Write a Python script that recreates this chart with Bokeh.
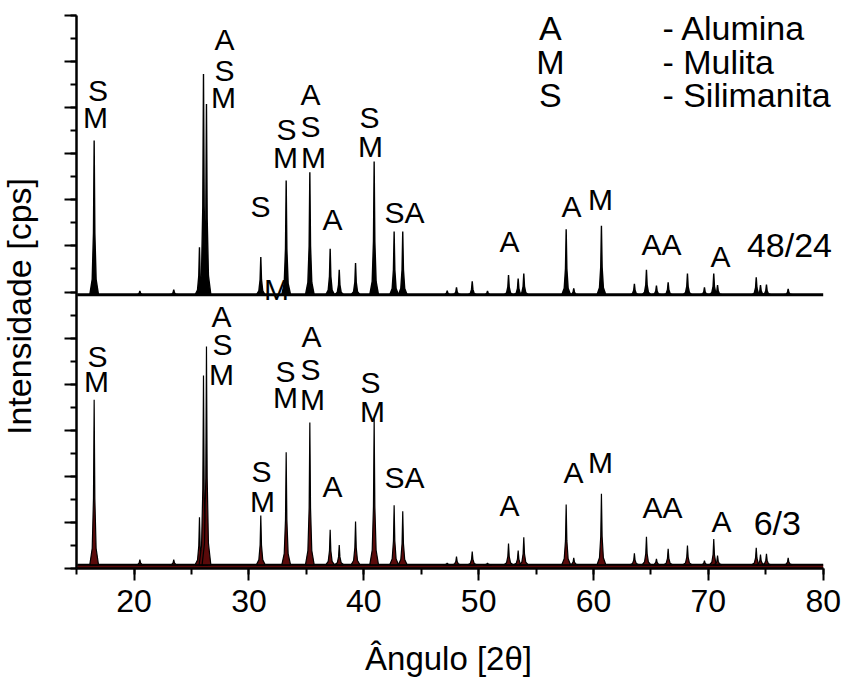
import math
from bokeh.plotting import figure
from bokeh.models import SingleIntervalTicker, CustomJSTickFormatter
from bokeh.core.properties import value
from bokeh.embed import file_html
from bokeh.resources import INLINE

# ---------------- data ----------------
peak_pos = [16.52, 20.50, 23.45, 25.69, 26.04, 26.30, 31.03, 33.24, 35.30, 37.07,
            37.86, 39.28, 40.90, 42.64, 43.39, 47.26, 48.07, 49.44, 50.77, 52.60,
            53.44, 53.93, 57.62, 58.28, 60.69, 63.56, 64.61, 65.48, 66.50, 68.18,
            69.66, 70.47, 70.80, 74.17, 74.54, 75.06, 76.95]
# sample 48/24 (upper pattern), intensities in axis units
top_peak = [9.29, 6.02, 6.05, 6.97, 10.73, 10.08, 6.76, 8.42, 8.60, 6.94,
            6.48, 6.63, 8.83, 7.31, 7.31, 6.03, 6.10, 6.23, 6.02, 6.37,
            6.29, 6.40, 7.36, 6.08, 7.44, 6.18, 6.48, 6.14, 6.21, 6.40,
            6.10, 6.40, 6.15, 6.32, 6.15, 6.16, 6.07]
# sample 6/3 (lower pattern)
bottom_peak = [3.66, 0.19, 0.19, 1.11, 4.19, 4.82, 1.15, 2.52, 3.17, 0.84,
               0.51, 1.02, 3.25, 1.37, 1.24, 0.12, 0.26, 0.37, 0.12, 0.54,
               0.39, 0.68, 1.39, 0.23, 1.62, 0.33, 0.69, 0.21, 0.43, 0.50,
               0.17, 0.64, 0.28, 0.45, 0.30, 0.32, 0.23]
top_base = 5.94
bottom_base = 0.08
x_start, x_end = 15.05, 80.0

top_lbl = ["S", "M", "A", "S", "M", "S", "M", "S", "M", "A", "S", "M", "A",
           "S", "M", "SA", "A", "A", "M", "AA", "A"]
top_lbl_x = [16.85, 16.64, 27.87, 27.87, 27.78, 31.00, 32.40, 33.27, 33.18, 35.36,
             35.36, 35.62, 37.27, 40.49, 40.58, 43.54, 52.68, 58.08, 60.61, 65.92, 71.06]
top_lbl_y = [10.13, 9.55, 11.24, 10.57, 9.98, 7.62, 5.82, 9.29, 8.68, 10.05,
             9.35, 8.68, 7.34, 9.55, 8.92, 7.49, 6.86, 7.62, 7.77, 6.79, 6.53]

bot_lbl = ["S", "M", "A", "S", "M", "S", "M", "S", "M", "A", "S", "M", "A",
           "S", "M", "SA", "A", "A", "M", "AA", "A"]
bot_lbl_x = [16.82, 16.73, 27.61, 27.69, 27.61, 31.09, 31.18, 33.18, 33.18, 35.45,
             35.36, 35.54, 37.27, 40.58, 40.75, 43.54, 52.68, 58.25, 60.61, 66.00, 71.15]
bot_lbl_y = [4.36, 3.82, 5.23, 4.62, 3.97, 1.87, 1.22, 4.04, 3.47, 4.80,
             4.08, 3.43, 1.54, 3.80, 3.17, 1.74, 1.13, 1.84, 2.06, 1.09, 0.78]

sample_names = ["48/24", "6/3"]
sample_x = [77.06, 76.00]
sample_y = [6.75, 0.72]

legend_keys = ["A", "M", "S"]
legend_names = ["- Alumina", "- Mulita", "- Silimanita"]
legend_key_x = 56.25
legend_name_x = 66.0
legend_y = [11.46, 10.74, 10.02]

x_title = "Ângulo [2θ]"
y_title = "Intensidade [cps]"

# ---------------- layout / style ----------------
W, H = 845, 678
X_LO, X_HI = 15, 80
Y_LO, Y_HI = 0, 12
AX_LEFT_PX, AX_BOTTOM_PX, AX_TOP_PX = 76.2, 568.0, 15.0
px_per_x = (822.7 - AX_LEFT_PX) / (X_HI - X_LO)
px_per_y = (AX_BOTTOM_PX - AX_TOP_PX) / (Y_HI - Y_LO)
xr = (X_LO - AX_LEFT_PX / px_per_x, X_LO + (W - AX_LEFT_PX) / px_per_x)
yr = (Y_LO - (H - AX_BOTTOM_PX) / px_per_y, Y_LO + AX_BOTTOM_PX / px_per_y)

PROFILE_DX = [-0.38, -0.17, -0.06, 0.0, 0.06, 0.17, 0.38]
PROFILE_FR = [0.0, 0.10, 0.40, 1.0, 0.40, 0.10, 0.0]


def peak_polys(base, heights):
    xs = [[c + d for d in PROFILE_DX] for c in peak_pos]
    ys = [[base + f * (h - base) for f in PROFILE_FR] for h in heights]
    return xs, ys


FONT = "Liberation Sans"


def off(fs):
    return -round(0.36 * fs)


p = figure(width=W, height=H, x_range=xr, y_range=yr,
           output_backend="svg", toolbar_location=None,
           min_border=0, min_border_left=0, min_border_right=0,
           min_border_top=0, min_border_bottom=0)
p.outline_line_color = None
p.xgrid.visible = False
p.ygrid.visible = False
p.background_fill_color = "white"
p.border_fill_color = "white"

# upper pattern (black)
txs, tys = peak_polys(top_base, top_peak)
p.line([x_start, x_end], [top_base, top_base], line_color="black", line_width=3)
p.patches(txs, tys, fill_color="black", line_color="black", line_width=1.4)

# lower pattern (dark red filled)
RED = "#5a0a0a"
p.varea(x=[x_start, x_end], y1=[0, 0], y2=[bottom_base, bottom_base], fill_color=RED)
p.line([x_start, x_end], [bottom_base, bottom_base], line_color="black", line_width=2)
bxs, bys = peak_polys(bottom_base, bottom_peak)
p.patches(bxs, bys, fill_color=RED, line_color="black", line_width=1.2)

# peak labels
LFS = 30
lab_kw = dict(text_font=value(FONT), text_font_size=value(f"{LFS}px"), text_color="black",
              text_align="center", text_baseline="alphabetic", y_offset=off(LFS))
p.text(x=top_lbl_x, y=top_lbl_y, text=top_lbl, **lab_kw)
p.text(x=bot_lbl_x, y=bot_lbl_y, text=bot_lbl, **lab_kw)

GFS = 34
p.text(x=[legend_key_x] * 3, y=legend_y, text=legend_keys, text_font=value(FONT),
       text_font_size=value(f"{GFS}px"), text_color="black", text_align="center",
       text_baseline="alphabetic", y_offset=off(GFS))
p.text(x=[legend_name_x] * 3, y=legend_y, text=legend_names, text_font=value(FONT),
       text_font_size=value(f"{GFS}px"), text_color="black", text_align="left",
       text_baseline="alphabetic", y_offset=off(GFS))

SFS = 34
p.text(x=sample_x, y=sample_y, text=sample_names, text_font=value(FONT),
       text_font_size=value(f"{SFS}px"), text_color="black", text_align="center",
       text_baseline="alphabetic", y_offset=off(SFS))

# axis titles
TFS = 33
p.text(x=[X_LO + (448 - AX_LEFT_PX) / px_per_x], y=[(AX_BOTTOM_PX - 670) / px_per_y],
       text=[x_title], text_font=value(FONT), text_font_size=value(f"{TFS}px"),
       text_color="black", text_align="center", text_baseline="alphabetic",
       y_offset=off(TFS))
YFS = 34
p.text(x=[X_LO + (30 - AX_LEFT_PX) / px_per_x], y=[(AX_BOTTOM_PX - 306) / px_per_y],
       text=[y_title], text_font=value(FONT), text_font_size=value(f"{YFS}px"),
       text_color="black", text_align="center", text_baseline="alphabetic",
       angle=math.pi / 2, x_offset=off(YFS))

# axes (drawn at fixed data locations inside the frame)
p.xaxis.fixed_location = Y_LO
p.yaxis.fixed_location = X_LO
p.xaxis.bounds = (X_LO, X_HI)
p.yaxis.bounds = (Y_LO, Y_HI)
p.xaxis.ticker = SingleIntervalTicker(interval=10, num_minor_ticks=2)
p.yaxis.ticker = SingleIntervalTicker(interval=1, num_minor_ticks=2)
p.yaxis.formatter = CustomJSTickFormatter(code="return ''")
for ax in (p.xaxis, p.yaxis):
    ax.axis_line_width = 2.5
    ax.axis_line_color = "black"
    ax.major_tick_line_width = 2
    ax.minor_tick_line_width = 2
    ax.major_tick_line_color = "black"
    ax.minor_tick_line_color = "black"
    ax.major_tick_out = 12
    ax.major_tick_in = 0
    ax.minor_tick_out = 6
    ax.minor_tick_in = 0
    ax.major_label_text_font = FONT
    ax.major_label_text_font_size = "32px"
    ax.major_label_text_color = "black"
p.xaxis.major_label_standoff = 9
p.yaxis.major_label_standoff = 0

open("out.html", "w").write(file_html(p, INLINE))
